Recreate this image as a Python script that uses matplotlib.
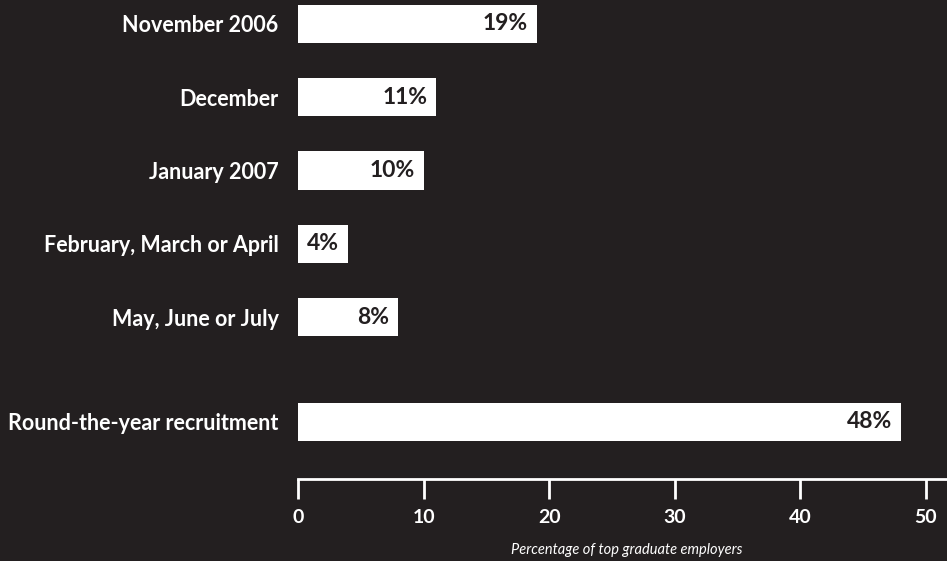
import matplotlib
matplotlib.use("Agg")
import matplotlib.pyplot as plt

# Timing of recruitment for top graduate employers
categories = ["November 2006", "December", "January 2007",
              "February, March or April", "May, June or July",
              "Round-the-year recruitment"]
values = [19, 11, 10, 4, 8, 48]
positions = [0, 1, 2, 3, 4, 5.43]
ticks = [0, 10, 20, 30, 40, 50]

bg = "#231f20"
plt.rcParams["font.family"] = ["Lato", "DejaVu Sans"]

fig = plt.figure(figsize=(9.47, 5.61), dpi=100, facecolor=bg)
ax = fig.add_axes([298 / 947, 1 - 479 / 561, 1 - 298 / 947, 479 / 561])
ax.set_facecolor(bg)

bars = ax.barh(positions, values, height=0.52, color="white", edgecolor="none")
for b, v in zip(bars, values):
    ax.text(b.get_width() - 0.72, b.get_y() + b.get_height() / 2, f"{v}%",
            ha="right", va="center", color=bg, fontsize=16.5, fontweight="bold")

ax.set_xlim(0, 51.67)
ax.set_ylim(6.21, -0.327)

ax.set_yticks(positions)
ax.set_yticklabels(categories)
ax.tick_params(axis="y", length=0, pad=14, labelsize=15.5, labelcolor="white")
for lbl in ax.get_yticklabels():
    lbl.set_fontweight("bold")

ax.set_xticks(ticks)
ax.set_xticklabels([str(t) for t in ticks])
ax.tick_params(axis="x", direction="out", length=14.4, width=2, color="white",
               labelsize=14, labelcolor="white", pad=7)
for lbl in ax.get_xticklabels():
    lbl.set_fontweight("bold")

for s in ["top", "right", "left"]:
    ax.spines[s].set_visible(False)
ax.spines["bottom"].set_color("white")
ax.spines["bottom"].set_linewidth(2)

ax.set_xlabel("Percentage of top graduate employers", color="white",
              fontsize=10.5, fontstyle="italic")
ax.xaxis.label.set_verticalalignment("center")
ax.xaxis.set_label_coords(26.2 / 51.67, -0.148)

fig.savefig("out.png", dpi=100, facecolor=bg)
